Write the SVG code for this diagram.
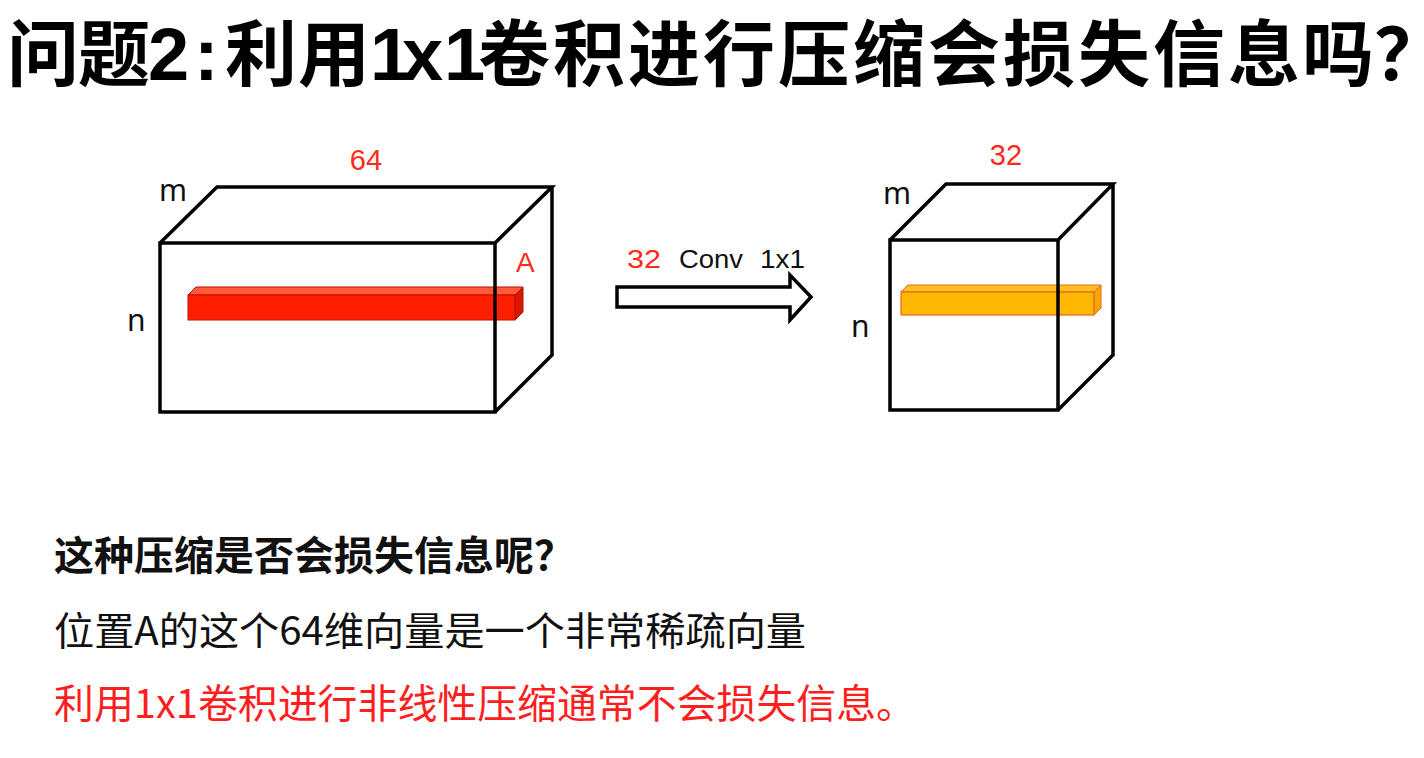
<svg xmlns="http://www.w3.org/2000/svg" width="1424" height="758" viewBox="0 0 1424 758">
<style>
.cjk{font-family:"Noto Sans CJK SC","Noto Sans",sans-serif;}
.lat{font-family:"Liberation Sans","Noto Sans",sans-serif;}
.red{fill:#ff2a1a;}
.edge{fill:none;stroke:#000;stroke-width:3.5;stroke-linejoin:miter;}
.lbl{font-family:"Noto Sans","Open Sans",sans-serif;font-size:30px;fill:#111;}
</style>
<rect width="1424" height="758" fill="#fff"/>
<g id="title">
<text class="cjk" font-size="72" font-weight="700" fill="#000" y="80"><tspan x="7 78">问题</tspan><tspan class="lat" font-size="74" x="148">2</tspan><tspan class="lat" font-size="74" x="194">:</tspan><tspan x="225 298">利用</tspan><tspan class="lat" font-size="74" x="370">1</tspan><tspan class="lat" font-size="74" x="402">x</tspan><tspan class="lat" font-size="74" x="444">1</tspan><tspan x="478 553 628 703 778 853 928 1003 1078 1153 1228 1302">卷积进行压缩会损失信息吗</tspan><tspan x="1374">？</tspan></text>
</g>
<g id="cube-left">
<g id="bar-red">
<polygon points="188,295 196,287 523,287 515,295" fill="#ff5a3c" stroke="#b01000" stroke-width="1"/>
<polygon points="515,295 523,287 523,312 515,320" fill="#d81800" stroke="#b01000" stroke-width="1"/>
<rect x="188" y="295" width="327" height="25" fill="#ff1e00" stroke="#c01000" stroke-width="1"/>
</g>
<path class="edge" d="M160,243 H495 V412 H160 Z M160,243 L217,187 H552 L495,243 M552,187 V355 L495,412"/>
<text class="lbl" x="159" y="201">m</text>
<text class="lbl" x="127" y="331">n</text>
<text class="lat red" x="366" y="170" font-size="29" text-anchor="middle">64</text>
<text class="lat red" x="516" y="272" font-size="28">A</text>
</g>
<g id="cube-right">
<g id="bar-orange">
<polygon points="901,292 908,285 1101,285 1094,292" fill="#ffc21a" stroke="#f0602a" stroke-width="1"/>
<polygon points="1094,292 1101,285 1101,308 1094,315" fill="#f5a800" stroke="#f0602a" stroke-width="1"/>
<rect x="901" y="292" width="193" height="23" fill="#ffb800" stroke="#f0602a" stroke-width="1.2"/>
</g>
<path class="edge" d="M890,240 H1058 V410 H890 Z M890,240 L946,184 H1113 L1058,240 M1113,184 V355 L1058,410"/>
<text class="lbl" x="883" y="204">m</text>
<text class="lbl" x="851" y="337">n</text>
<text class="lat red" x="1006" y="165" font-size="29" text-anchor="middle">32</text>
</g>
<g id="connectors">
<polygon points="617,287 790,287 790,275 811,297 790,320 790,307 617,307" fill="#fff" stroke="#000" stroke-width="3.5" stroke-linejoin="miter"/>
<text class="lat" y="268" font-size="26"><tspan class="red" x="627" textLength="34" lengthAdjust="spacingAndGlyphs">32</tspan><tspan x="679" fill="#111" textLength="64" lengthAdjust="spacingAndGlyphs">Conv</tspan><tspan x="760" fill="#111" textLength="45" lengthAdjust="spacingAndGlyphs">1x1</tspan></text>
</g>
<g id="notes">
<text class="cjk" x="54" y="570" font-size="40" font-weight="700" fill="#111">这种压缩是否会损失信息呢？</text>
<text class="cjk" x="54" y="645" font-size="39" fill="#111" textLength="752" lengthAdjust="spacingAndGlyphs">位置A的这个64维向量是一个非常稀疏向量</text>
<text class="cjk" x="54" y="718" font-size="40" fill="#ff1e1e" textLength="862" lengthAdjust="spacingAndGlyphs">利用1x1卷积进行非线性压缩通常不会损失信息。</text>
</g>
</svg>
